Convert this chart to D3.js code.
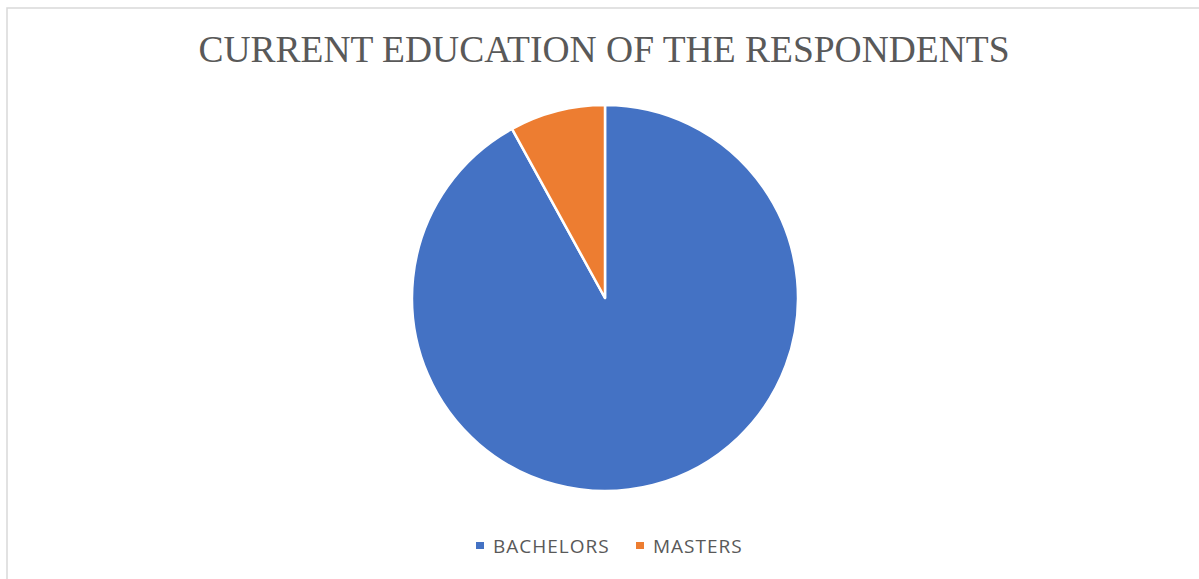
<!DOCTYPE html>
<html>
<head>
    <meta charset="utf-8">
    <title>Current education</title>
    <script src="https://cdnjs.cloudflare.com/ajax/libs/d3/7.8.5/d3.min.js"></script>
</head>
<body style="margin:0">
<style>
    svg { display: block; background: #fff; }
</style>
<script>
    const categories = ["BACHELORS", "MASTERS"];
    const values = [92, 8];
    const colors = ["#4472C4", "#ED7D31"];

    const width = 1199, height = 579;
    const svg = d3.select("body").append("svg").attr("width", width).attr("height", height);

    // chart frame (only left and top edges show in the crop)
    svg.append("rect")
        .attr("x", 7).attr("y", 8)
        .attr("width", width + 10).attr("height", height + 10)
        .attr("fill", "none").attr("stroke", "#d9d9d9").attr("stroke-width", 1.5);

    svg.append("text")
        .attr("x", 604).attr("y", 62)
        .attr("text-anchor", "middle")
        .attr("font-family", "Liberation Serif, Times New Roman, serif")
        .attr("font-size", 37.5)
        .attr("fill", "#595959")
        .text("CURRENT EDUCATION OF THE RESPONDENTS");

    const data = categories.map((c, i) => ({name: c, value: values[i]}));
    const pie = d3.pie().value(d => d.value).sort(null);
    const arc = d3.arc().innerRadius(0).outerRadius(193);

    const g = svg.append("g").attr("transform", "translate(605, 298)");
    g.selectAll("path").data(pie(data))
        .enter().append("path")
        .attr("d", arc)
        .attr("fill", (d, i) => colors[i])
        .attr("stroke", "#fff")
        .attr("stroke-width", 2.5)
        .attr("stroke-linejoin", "round");

    // legend
    const legendX = [476, 636];
    const legend = svg.append("g");
    const items = legend.selectAll("g").data(data).enter().append("g")
        .attr("transform", (d, i) => `translate(${legendX[i]}, 542)`);
    items.append("rect")
        .attr("width", 8).attr("height", 7)
        .attr("fill", (d, i) => colors[i]);
    items.append("text")
        .attr("x", 17).attr("y", 10.5)
        .attr("font-family", "Open Sans, sans-serif")
        .attr("font-size", 19)
        .attr("letter-spacing", 1)
        .attr("fill", "#595959")
        .text(d => d.name);
</script>
</body>
</html>
